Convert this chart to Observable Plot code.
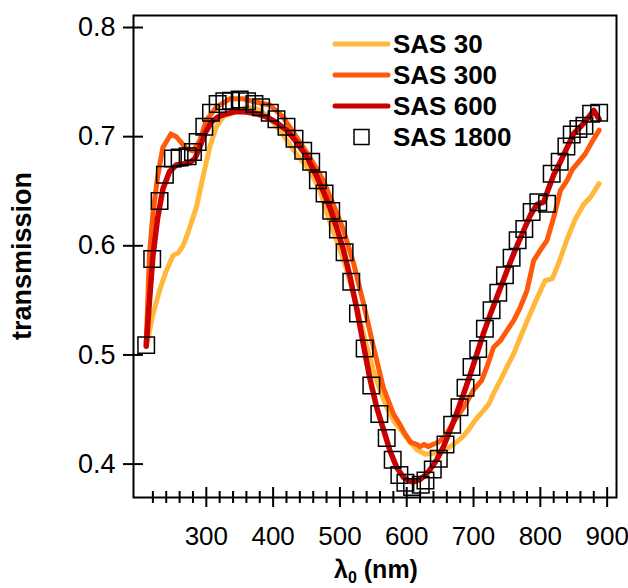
<!DOCTYPE html>
<html>
<head>
<meta charset="utf-8">
<script src="https://cdn.jsdelivr.net/npm/d3@7"></script>
<script src="https://cdn.jsdelivr.net/npm/@observablehq/plot@0.6"></script>
<style>
  html, body { margin: 0; padding: 0; background: #fff; }
  #chart { position: relative; width: 628px; height: 588px; }
</style>
</head>
<body>
<div id="chart"></div>
<script>
// ---- data ----
const seriesNames = ["SAS 30", "SAS 300", "SAS 600", "SAS 1800"];
const seriesColors = ["#FFB83C", "#FF5A0A", "#CC0000", "#000000"];

const sas30_x = [212, 220, 230, 240, 250, 258, 265, 272, 285, 295, 305, 315, 325, 340, 360, 375, 390, 410, 435, 455, 470, 480, 490, 500, 510, 520, 530, 540, 550, 560, 570, 580, 592, 605, 616, 628, 639, 650, 662, 672, 682, 692, 702, 712, 723, 731, 740, 750, 760, 772, 785, 795, 807, 818, 828, 840, 852, 865, 875, 888];
const sas30_y = [0.513, 0.537, 0.559, 0.577, 0.591, 0.5935, 0.600, 0.611, 0.635, 0.663, 0.690, 0.709, 0.718, 0.7224, 0.727, 0.7255, 0.720, 0.706, 0.684, 0.669, 0.651, 0.631, 0.613, 0.597, 0.578, 0.556, 0.532, 0.508, 0.486, 0.468, 0.452, 0.440, 0.4306, 0.420, 0.413, 0.409, 0.410, 0.411, 0.4147, 0.419, 0.424, 0.431, 0.4398, 0.447, 0.455, 0.466, 0.4765, 0.489, 0.501, 0.519, 0.538, 0.552, 0.568, 0.570, 0.585, 0.606, 0.624, 0.638, 0.6445, 0.657];

const sas300_x = [210, 215, 220, 227, 235, 247, 255, 262, 270, 280, 290, 300, 315, 335, 355, 375, 395, 415, 435, 455, 475, 490, 505, 520, 535, 550, 565, 580, 590, 597, 606, 615, 620, 626, 632, 639, 647, 657, 672, 687, 700, 712, 720, 730, 740, 750, 760, 770, 780, 790, 800, 810, 820, 830, 840, 848, 855, 867, 880, 888];
const sas300_y = [0.51, 0.593, 0.629, 0.663, 0.690, 0.7025, 0.700, 0.695, 0.689, 0.687, 0.696, 0.715, 0.727, 0.7347, 0.7347, 0.7315, 0.729, 0.718, 0.6995, 0.681, 0.660, 0.638, 0.615, 0.585, 0.548, 0.508, 0.470, 0.446, 0.436, 0.428, 0.420, 0.418, 0.416, 0.418, 0.416, 0.418, 0.420, 0.4255, 0.440, 0.4535, 0.468, 0.4765, 0.489, 0.507, 0.513, 0.5223, 0.5315, 0.5437, 0.559, 0.5865, 0.596, 0.605, 0.626, 0.6506, 0.660, 0.670, 0.675, 0.684, 0.698, 0.706];

const sas600_x = [210, 215, 220, 227, 235, 245, 255, 265, 275, 283, 290, 298, 307, 317, 330, 345, 360, 375, 390, 405, 420, 435, 450, 465, 475, 485, 495, 505, 515, 525, 535, 545, 555, 565, 575, 585, 595, 605, 612, 620, 628, 635, 645, 655, 665, 675, 685, 695, 705, 715, 725, 735, 745, 755, 765, 775, 785, 795, 805, 812, 820, 830, 840, 850, 860, 870, 880, 888];
const sas600_y = [0.508, 0.55, 0.59, 0.625, 0.652, 0.668, 0.674, 0.675, 0.676, 0.680, 0.690, 0.703, 0.713, 0.718, 0.721, 0.723, 0.7225, 0.721, 0.718, 0.713, 0.706, 0.695, 0.682, 0.664, 0.650, 0.635, 0.617, 0.597, 0.572, 0.543, 0.510, 0.478, 0.452, 0.432, 0.412, 0.397, 0.388, 0.384, 0.384, 0.386, 0.390, 0.395, 0.404, 0.416, 0.431, 0.447, 0.464, 0.482, 0.501, 0.520, 0.537, 0.553, 0.569, 0.585, 0.600, 0.614, 0.628, 0.638, 0.640, 0.652, 0.665, 0.677, 0.690, 0.703, 0.709, 0.716, 0.724, 0.716];

const sas1800_x = [210, 219, 230, 238, 250, 260, 272, 280, 287, 297, 307, 317, 327, 337, 350, 361, 372, 382, 395, 405, 420, 432, 445, 457, 467, 477, 487, 497, 507, 517, 527, 537, 547, 559, 570, 579, 589, 598, 608, 621, 628, 639, 648, 658, 668, 679, 688, 697, 707, 717, 727, 737, 747, 757, 766, 776, 787, 797, 810, 817, 829, 839, 847, 857, 866, 876, 888];
const sas1800_y = [0.509, 0.588, 0.641, 0.665, 0.680, 0.681, 0.682, 0.686, 0.695, 0.709, 0.722, 0.730, 0.7325, 0.733, 0.734, 0.7325, 0.730, 0.727, 0.722, 0.716, 0.709, 0.698, 0.687, 0.677, 0.660, 0.648, 0.632, 0.615, 0.594, 0.567, 0.538, 0.506, 0.472, 0.446, 0.424, 0.404, 0.390, 0.383, 0.379, 0.381, 0.385, 0.395, 0.405, 0.418, 0.436, 0.452, 0.470, 0.489, 0.5055, 0.524, 0.541, 0.557, 0.573, 0.589, 0.605, 0.6155, 0.631, 0.640, 0.6385, 0.666, 0.677, 0.691, 0.702, 0.707, 0.710, 0.721, 0.722];

const xMajorTicks = [300, 400, 500, 600, 700, 800, 900];
const xMinorTicks = [220, 240, 260, 280, 320, 340, 360, 380, 420, 440, 460, 480, 520, 540, 560, 580, 620, 640, 660, 680, 720, 740, 760, 780, 820, 840, 860, 880];
const yTicks = [0.4, 0.5, 0.6, 0.7, 0.8];

// ---- build tables ----
const toRows = (xs, ys) => xs.map((x, i) => ({x, y: ys[i]}));
const d30 = toRows(sas30_x, sas30_y);
const d300 = toRows(sas300_x, sas300_y);
const d600 = toRows(sas600_x, sas600_y);
const d1800 = toRows(sas1800_x, sas1800_y);

const font = "'Liberation Sans', Arial, Helvetica, sans-serif";

const plot = Plot.plot({
  width: 628,
  height: 588,
  marginLeft: 133,
  marginRight: 12,
  marginTop: 15,
  marginBottom: 91,
  style: {fontFamily: font, fontSize: "27px", background: "#fff", color: "#000", overflow: "visible"},
  x: {domain: [191, 914]},
  y: {domain: [0.3694, 0.811]},
  marks: [
    Plot.line(d30, {x: "x", y: "y", stroke: seriesColors[0], strokeWidth: 5}),
    Plot.line(d300, {x: "x", y: "y", stroke: seriesColors[1], strokeWidth: 5}),
    Plot.line(d600, {x: "x", y: "y", stroke: seriesColors[2], strokeWidth: 5.5}),
    Plot.dot(d1800, {x: "x", y: "y", symbol: "square", r: 9.3, stroke: "#000", strokeWidth: 1.5, fill: "none"}),
    Plot.frame({stroke: "#000", strokeWidth: 2}),
    // tick marks crossing the axes
    Plot.axisX({ticks: xMajorTicks, tickSize: 20, dy: -10, tickFormat: () => "", label: null, strokeWidth: 2}),
    Plot.axisX({ticks: xMinorTicks, tickSize: 12, dy: -6, tickFormat: () => "", label: null, strokeWidth: 2}),
    Plot.axisY({ticks: yTicks, tickSize: 20, dx: 10, tickFormat: () => "", label: null, strokeWidth: 2}),
    // tick labels
    Plot.axisX({ticks: xMajorTicks, tickSize: 0, tickPadding: 29, label: null, fontSize: 26}),
    Plot.axisY({ticks: yTicks, tickSize: 0, tickPadding: 18, tickFormat: d3.format(".1f"), label: null, fontSize: 27})
  ]
});

document.getElementById("chart").appendChild(plot);

const svg = d3.select(plot);

// ---- y axis title ----
svg.append("text")
  .attr("transform", "translate(31,256) rotate(-90)")
  .attr("text-anchor", "middle")
  .attr("font-family", font).attr("font-size", 27).attr("font-weight", "bold")
  .text("transmission");

// ---- x axis title with subscript ----
const xt = svg.append("text")
  .attr("x", 376).attr("y", 578)
  .attr("text-anchor", "middle")
  .attr("font-family", font).attr("font-size", 25).attr("font-weight", "bold");
xt.append("tspan").text("λ");
xt.append("tspan").attr("font-size", 16).attr("dy", 5).text("0");
xt.append("tspan").attr("dy", -5).text(" (nm)");

// ---- legend ----
const lg = svg.append("g").attr("font-family", font).attr("font-size", 26).attr("font-weight", "bold").attr("text-anchor", "start");
const legendY = [44, 75, 106, 137];
seriesNames.forEach((name, i) => {
  const y = legendY[i];
  if (i < 3) {
    lg.append("line").attr("x1", 335).attr("x2", 388).attr("y1", y).attr("y2", y)
      .attr("stroke", seriesColors[i]).attr("stroke-width", 5).attr("stroke-linecap", "round");
  } else {
    lg.append("rect").attr("x", 354).attr("y", y - 7.5).attr("width", 15).attr("height", 15)
      .attr("fill", "none").attr("stroke", "#000").attr("stroke-width", 1.5);
  }
  lg.append("text").attr("x", 393).attr("y", y).attr("dy", "0.36em").attr("text-anchor", "start").text(name);
});
</script>
</body>
</html>
